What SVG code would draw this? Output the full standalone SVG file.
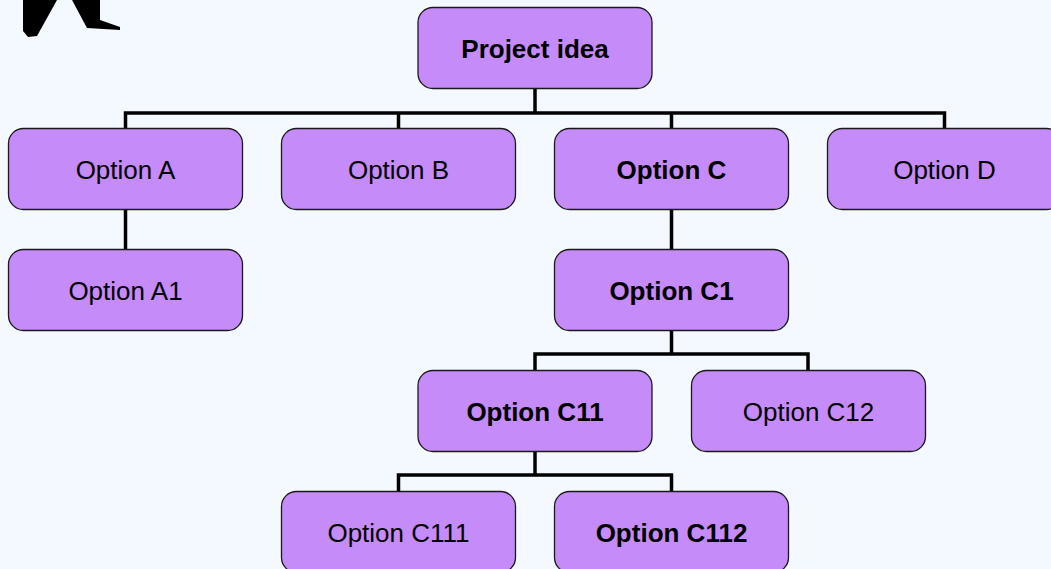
<svg xmlns="http://www.w3.org/2000/svg" width="1051" height="569" viewBox="0 0 1051 569">
<style>
.box{fill:#C58BF8;stroke:#1a1a1a;stroke-width:1.3}
.t{font-family:"Liberation Sans",Arial,sans-serif;font-size:26px;fill:#000;text-anchor:middle}
.b{font-weight:bold}
.c{fill:none;stroke:#000;stroke-width:3.5}
</style>
<rect width="1051" height="569" fill="#F4F8FF"/>
<polygon points="23,0 57,0 37,36 28,37 23,31" fill="#000"/>
<polygon points="72,0 100,0 100,20 120,27 120,30 87,28" fill="#000"/>
<g id="connectors">
<path class="c" d="M535,88 V113 M125.5,129 V113 H944.5 V129 M398.5,113 V129 M671.5,113 V129"/>
<path class="c" d="M125.5,209 V250"/>
<path class="c" d="M671.5,209 V250"/>
<path class="c" d="M671.5,330 V354 M535,371 V354 H808 V371"/>
<path class="c" d="M535,451 V475 M398.5,492 V475 H671.5 V492"/>
</g>
<g id="project"><rect class="box" x="418" y="7.5" width="234" height="81" rx="15"/><text class="t b" x="535" y="58">Project idea</text></g>
<g id="optA"><rect class="box" x="8.5" y="128.5" width="234" height="81" rx="15"/><text class="t" x="125.5" y="179">Option A</text></g>
<g id="optB"><rect class="box" x="281.5" y="128.5" width="234" height="81" rx="15"/><text class="t" x="398.5" y="179">Option B</text></g>
<g id="optC"><rect class="box" x="554.5" y="128.5" width="234" height="81" rx="15"/><text class="t b" x="671.5" y="179">Option C</text></g>
<g id="optD"><rect class="box" x="827.5" y="128.5" width="234" height="81" rx="15"/><text class="t" x="944.5" y="179">Option D</text></g>
<g id="optA1"><rect class="box" x="8.5" y="249.5" width="234" height="81" rx="15"/><text class="t" x="125.5" y="300">Option A1</text></g>
<g id="optC1"><rect class="box" x="554.5" y="249.5" width="234" height="81" rx="15"/><text class="t b" x="671.5" y="300">Option C1</text></g>
<g id="optC11"><rect class="box" x="418" y="370.5" width="234" height="81" rx="15"/><text class="t b" x="535" y="421">Option C11</text></g>
<g id="optC12"><rect class="box" x="691.5" y="370.5" width="234" height="81" rx="15"/><text class="t" x="808.5" y="421">Option C12</text></g>
<g id="optC111"><rect class="box" x="281.5" y="491.5" width="234" height="81" rx="15"/><text class="t" x="398.5" y="542">Option C111</text></g>
<g id="optC112"><rect class="box" x="554.5" y="491.5" width="234" height="81" rx="15"/><text class="t b" x="671.5" y="542">Option C112</text></g>
</svg>
